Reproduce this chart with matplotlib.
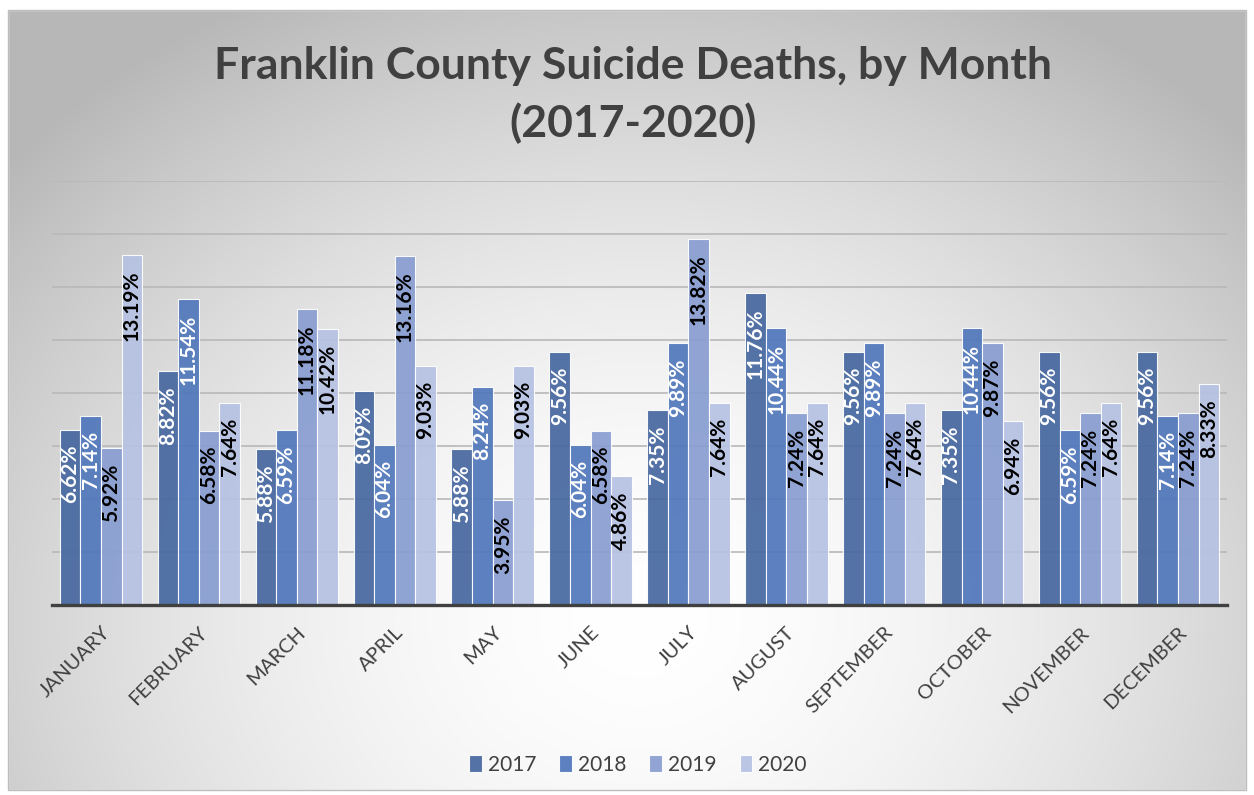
import numpy as np
import matplotlib.pyplot as plt
from matplotlib.patches import Rectangle

plt.rcParams["font.family"] = ["Lato", "DejaVu Sans"]

months = ["JANUARY", "FEBRUARY", "MARCH", "APRIL", "MAY", "JUNE", "JULY",
          "AUGUST", "SEPTEMBER", "OCTOBER", "NOVEMBER", "DECEMBER"]
years = ["2017", "2018", "2019", "2020"]
pct_2017 = [6.62, 8.82, 5.88, 8.09, 5.88, 9.56, 7.35, 11.76, 9.56, 7.35, 9.56, 9.56]
pct_2018 = [7.14, 11.54, 6.59, 6.04, 8.24, 6.04, 9.89, 10.44, 9.89, 10.44, 6.59, 7.14]
pct_2019 = [5.92, 6.58, 11.18, 13.16, 3.95, 6.58, 13.82, 7.24, 7.24, 9.87, 7.24, 7.24]
pct_2020 = [13.19, 7.64, 10.42, 9.03, 9.03, 4.86, 7.64, 7.64, 7.64, 6.94, 7.64, 8.33]

series = [pct_2017, pct_2018, pct_2019, pct_2020]
colors = ["#46679f", "#5077bb", "#889dd1", "#b6c2e3"]
label_colors = ["white", "white", "black", "black"]

W, H = 1254, 795
fig = plt.figure(figsize=(W / 100, H / 100), dpi=100)

# radial grey background with a thin frame
bg = fig.add_axes([0, 0, 1, 1], zorder=-5)
yy, xx = np.mgrid[0:H, 0:W]
d = np.hypot((xx - 640) / 760.0, (yy - 620) / 640.0)
shade = 1.0 - 0.24 * np.clip(d, 0, 1.1) ** 1.7
img = np.dstack([shade] * 3)
bg.imshow(img, extent=[0, W, H, 0], aspect="auto")
bg.add_patch(Rectangle((0, 0), W, 10, color="white"))
bg.add_patch(Rectangle((0, 0), 8, H, color="white"))
bg.add_patch(Rectangle((1246, 0), 8, H, color="white"))
bg.add_patch(Rectangle((0, 790), W, 5, color="white"))
bg.add_patch(Rectangle((8, 10), 1238, 780, fill=False, ec="#bdbdbd", lw=1))
bg.set_xlim(0, W)
bg.set_ylim(H, 0)
bg.axis("off")

ax = fig.add_axes([52 / W, 1 - 605 / H, (1227 - 52) / W, (605 - 181) / H])
ax.set_facecolor("none")

x = np.arange(len(months))
w = 0.21
for i, (vals, c) in enumerate(zip(series, colors)):
    pos = x + (i - 1.5) * w
    ax.bar(pos, vals, w, color=c, alpha=0.92, edgecolor=(1, 1, 1, 0.6),
           linewidth=0.8, label=years[i], zorder=2)
    for xp, v in zip(pos, vals):
        ax.annotate(f"{v:.2f}%", (xp, v), xytext=(0, -11), textcoords="offset points",
                    rotation=90, ha="center", va="top", fontsize=15,
                    fontweight="bold", color=label_colors[i], zorder=3)

ax.set_xlim(-0.5, 11.5)
ax.set_ylim(0, 16)
ax.set_yticks(np.arange(2, 17, 2))
ax.yaxis.grid(True, color="#b8b8b8", lw=1.2, zorder=0)
ax.set_axisbelow(True)
ax.tick_params(axis="y", left=False, labelleft=False)
ax.tick_params(axis="x", bottom=False, pad=10)
ax.set_xticks(x)
ax.set_xticklabels(months, rotation=45, ha="right", rotation_mode="anchor",
                   fontsize=14.5, color="#404040")
for s in ["top", "right", "left"]:
    ax.spines[s].set_visible(False)
ax.spines["bottom"].set_color("#404040")
ax.spines["bottom"].set_linewidth(2.4)
ax.spines["bottom"].set_zorder(4)

fig.text(633 / W, 1 - 95 / H, "Franklin County Suicide Deaths, by Month\n(2017-2020)",
         ha="center", va="center", fontsize=32, fontweight="bold", color="#404040",
         linespacing=1.45)

fig.legend(loc="center", bbox_to_anchor=(638 / W, 1 - 765 / H), ncol=4, frameon=False,
           fontsize=15, labelcolor="#404040", handlelength=0.6, handleheight=0.9,
           handletextpad=0.3, columnspacing=1.1)

fig.savefig("out.png", dpi=100)
